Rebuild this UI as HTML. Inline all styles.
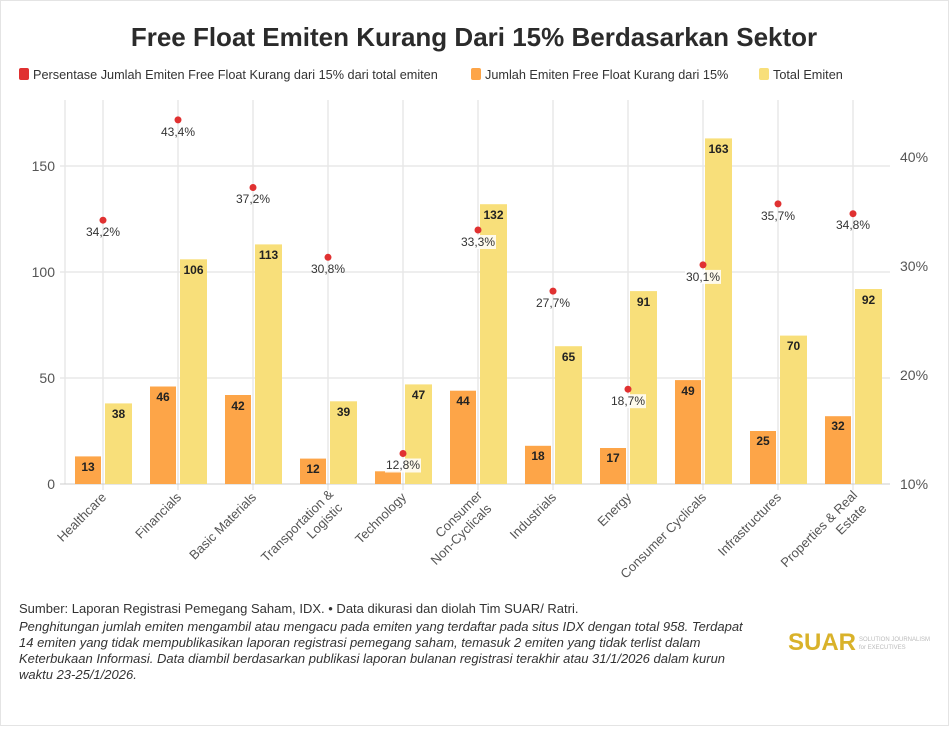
<!DOCTYPE html><html><head><style>body{margin:0;background:#fff}svg text{font-family:"Liberation Sans",sans-serif}</style></head><body>
<svg width="949" height="726" xmlns="http://www.w3.org/2000/svg">
<rect x="0.5" y="0.5" width="948" height="725" fill="#fff" stroke="#e4e4e4"/>
<text x="474" y="46" text-anchor="middle" font-size="26" font-weight="bold" fill="#2b2b2b">Free Float Emiten Kurang Dari 15% Berdasarkan Sektor</text>
<g font-size="12.7" fill="#333">
<rect x="19" y="68" width="10" height="12" rx="2" fill="#e03131"/><text x="33" y="79">Persentase Jumlah Emiten Free Float Kurang dari 15% dari total emiten</text>
<rect x="471" y="68" width="10" height="12" rx="2" fill="#fda548"/><text x="485" y="79">Jumlah Emiten Free Float Kurang dari 15%</text>
<rect x="759" y="68" width="10" height="12" rx="2" fill="#f8df7a"/><text x="773" y="79">Total Emiten</text>
</g>
<g stroke="#e8e8e8" stroke-width="1.5">
<line x1="65" y1="100" x2="65" y2="484"/>
<line x1="60" y1="166" x2="890" y2="166"/><line x1="60" y1="272" x2="890" y2="272"/><line x1="60" y1="378" x2="890" y2="378"/>
<line x1="103" y1="100" x2="103" y2="490"/><line x1="178" y1="100" x2="178" y2="490"/><line x1="253" y1="100" x2="253" y2="490"/><line x1="328" y1="100" x2="328" y2="490"/><line x1="403" y1="100" x2="403" y2="490"/><line x1="478" y1="100" x2="478" y2="490"/><line x1="553" y1="100" x2="553" y2="490"/><line x1="628" y1="100" x2="628" y2="490"/><line x1="703" y1="100" x2="703" y2="490"/><line x1="778" y1="100" x2="778" y2="490"/><line x1="853" y1="100" x2="853" y2="490"/>
</g>
<line x1="60" y1="484" x2="890" y2="484" stroke="#ccc"/>
<g font-size="14" fill="#555" text-anchor="end"><text x="55" y="171">150</text><text x="55" y="277">100</text><text x="55" y="383">50</text><text x="55" y="489">0</text></g>
<g font-size="14" fill="#555"><text x="900" y="162">40%</text><text x="900" y="271">30%</text><text x="900" y="380">20%</text><text x="900" y="489">10%</text></g>
<g fill="#fda548">
<rect x="75" y="456.4" width="26" height="27.6"/><rect x="150" y="386.5" width="26" height="97.5"/><rect x="225" y="395" width="26" height="89"/><rect x="300" y="458.6" width="26" height="25.4"/><rect x="375" y="471.3" width="26" height="12.7"/><rect x="450" y="390.7" width="26" height="93.3"/><rect x="525" y="445.8" width="26" height="38.2"/><rect x="600" y="448" width="26" height="36"/><rect x="675" y="380.1" width="26" height="103.9"/><rect x="750" y="431" width="26" height="53"/><rect x="825" y="416.2" width="26" height="67.8"/>
</g>
<g fill="#f8df7a">
<rect x="105" y="403.4" width="27" height="80.6"/><rect x="180" y="259.3" width="27" height="224.7"/><rect x="255" y="244.4" width="27" height="239.6"/><rect x="330" y="401.3" width="27" height="82.7"/><rect x="405" y="384.4" width="27" height="99.6"/><rect x="480" y="204.2" width="27" height="279.8"/><rect x="555" y="346.2" width="27" height="137.8"/><rect x="630" y="291.1" width="27" height="192.9"/><rect x="705" y="138.4" width="27" height="345.6"/><rect x="780" y="335.6" width="27" height="148.4"/><rect x="855" y="289" width="27" height="195"/>
</g>
<g font-size="12" font-weight="bold" text-anchor="middle" fill="#222">
<text x="88" y="471">13</text><text x="163" y="401">46</text><text x="238" y="410">42</text><text x="313" y="473">12</text><text x="463" y="405">44</text><text x="538" y="460">18</text><text x="613" y="462">17</text><text x="688" y="395">49</text><text x="763" y="445">25</text><text x="838" y="430">32</text>
<text x="118.5" y="418">38</text><text x="193.5" y="274">106</text><text x="268.5" y="259">113</text><text x="343.5" y="416">39</text><text x="418.5" y="399">47</text><text x="493.5" y="219">132</text><text x="568.5" y="361">65</text><text x="643.5" y="306">91</text><text x="718.5" y="153">163</text><text x="793.5" y="350">70</text><text x="868.5" y="304">92</text>
</g>
<g fill="#e03131">
<circle cx="103" cy="220.2" r="3.5"/><circle cx="178" cy="119.9" r="3.5"/><circle cx="253" cy="187.5" r="3.5"/><circle cx="328" cy="257.3" r="3.5"/><circle cx="403" cy="453.5" r="3.5"/><circle cx="478" cy="230" r="3.5"/><circle cx="553" cy="291.1" r="3.5"/><circle cx="628" cy="389.2" r="3.5"/><circle cx="703" cy="264.9" r="3.5"/><circle cx="778" cy="203.9" r="3.5"/><circle cx="853" cy="213.7" r="3.5"/>
</g>
<g fill="#fff" opacity="0.85">
<rect x="385" y="458.5" width="36" height="14"/><rect x="460" y="235" width="36" height="14"/><rect x="610" y="394.2" width="36" height="14"/><rect x="685" y="269.9" width="36" height="14"/>
</g>
<g font-size="12" text-anchor="middle" fill="#333">
<text x="103" y="236">34,2%</text><text x="178" y="136">43,4%</text><text x="253" y="203">37,2%</text><text x="328" y="273">30,8%</text><text x="403" y="469">12,8%</text><text x="478" y="246">33,3%</text><text x="553" y="307">27,7%</text><text x="628" y="405">18,7%</text><text x="703" y="281">30,1%</text><text x="778" y="220">35,7%</text><text x="853" y="229">34,8%</text>
</g>
<g font-size="13" text-anchor="end" fill="#555">
<text transform="translate(107,498) rotate(-45)">Healthcare</text>
<text transform="translate(182,498) rotate(-45)">Financials</text>
<text transform="translate(257,498) rotate(-45)">Basic Materials</text>
<g transform="translate(334,495) rotate(-45)"><text x="0" y="0">Transportation &amp;</text><text x="-3" y="16">Logistic</text></g>
<text transform="translate(407,498) rotate(-45)">Technology</text>
<g transform="translate(483,496) rotate(-45)"><text x="0" y="0">Consumer</text><text x="-3" y="16">Non-Cyclicals</text></g>
<text transform="translate(557,498) rotate(-45)">Industrials</text>
<text transform="translate(632,498) rotate(-45)">Energy</text>
<text transform="translate(707,498) rotate(-45)">Consumer Cyclicals</text>
<text transform="translate(782,498) rotate(-45)">Infrastructures</text>
<g transform="translate(858,496) rotate(-45)"><text x="0" y="0">Properties &amp; Real</text><text x="-3" y="16">Estate</text></g>
</g>
<text x="19" y="613" font-size="13" fill="#333">Sumber: Laporan Registrasi Pemegang Saham, IDX. • Data dikurasi dan diolah Tim SUAR/ Ratri.</text>
<g font-size="13" fill="#333" font-style="italic">
<text x="19" y="631">Penghitungan jumlah emiten mengambil atau mengacu pada emiten yang terdaftar pada situs IDX dengan total 958. Terdapat</text>
<text x="19" y="647">14 emiten yang tidak mempublikasikan laporan registrasi pemegang saham, temasuk 2 emiten yang tidak terlist dalam</text>
<text x="19" y="663">Keterbukaan Informasi. Data diambil berdasarkan publikasi laporan bulanan registrasi terakhir atau 31/1/2026 dalam kurun</text>
<text x="19" y="679">waktu 23-25/1/2026.</text></g>
<text x="788" y="650" font-size="24" font-weight="bold" fill="#d9b22a" font-family="Liberation Serif" textLength="68" lengthAdjust="spacingAndGlyphs">SUAR</text>
<text x="859" y="641" font-size="6" fill="#bbb" font-family="Liberation Serif">SOLUTION JOURNALISM</text>
<text x="859" y="649" font-size="6" fill="#bbb" font-family="Liberation Serif">for EXECUTIVES</text>
</svg></body></html>
